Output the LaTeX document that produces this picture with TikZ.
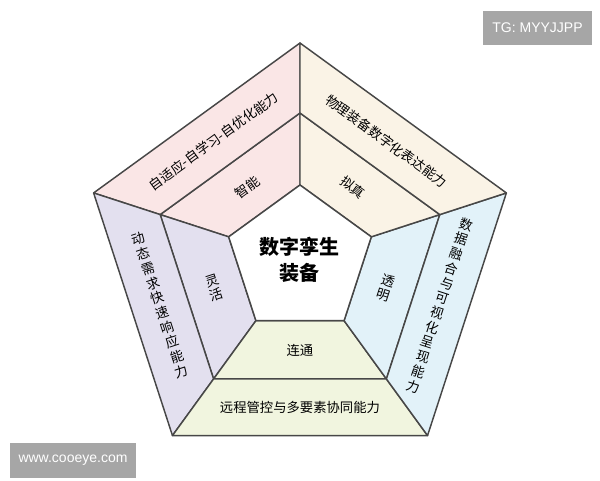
\documentclass[tikz,border=0pt]{standalone}
\usepackage{fontspec}
\setmainfont{Liberation Sans}
\newfontfamily\cjk{Noto Sans CJK SC}

\definecolor{pinkband}{HTML}{FAE6E6}
\definecolor{creamband}{HTML}{FAF3E6}
\definecolor{iceband}{HTML}{E2F2F9}
\definecolor{limeband}{HTML}{F1F5DF}
\definecolor{lilacband}{HTML}{E3E0EF}

\tikzstyle{band}=[draw=black!72, line width=1.1pt, line join=round]
\tikzstyle{lbl}=[font=\cjk\fontsize{10}{11.6}\selectfont, align=center, inner sep=0pt]
\tikzstyle{tag}=[fill=black!35, text=white, font=\fontsize{10.5}{12}\selectfont]

\begin{document}
\begin{tikzpicture}[x=0.75pt, y=0.75pt]
  \useasboundingbox (-300,-220) rectangle (300,260);
  \foreach \k in {0,...,4} {%
    \coordinate (i\k) at (90+72*\k:75);
    \coordinate (m\k) at (90+72*\k:147);
    \coordinate (o\k) at (90+72*\k:217);
  }
  \foreach \a/\b/\c in {0/1/pinkband, 1/2/lilacband, 2/3/limeband, 3/4/iceband, 4/0/creamband} {%
    \draw[band, fill=\c] (i\a) -- (m\a) -- (m\b) -- (i\b) -- cycle;
    \draw[band, fill=\c] (m\a) -- (o\a) -- (o\b) -- (m\b) -- cycle;
  }
  \draw[band, fill=white] (i0) -- (i1) -- (i2) -- (i3) -- (i4) -- cycle;

  \node[lbl, font=\cjk\bfseries\fontsize{15}{19.5}\selectfont] (core) at (0,0) {数字孪生\\装备};
  \node[lbl, rotate=36] (smart) at (126:90) {智能};
  \node[lbl, rotate=36] (selfopt) at (126:147) {自适应-自学习-自优化能力};
  \node[lbl, rotate=-36] (sim) at (54:90) {拟真};
  \node[lbl, rotate=-36] (digit) at (54:147) {物理装备数字化表达能力};
  \node[lbl, rotate=-18] (clear) at (342:90) {透\\明};
  \node[lbl, rotate=-18] (visual) at (342:147) {数\\据\\融\\合\\与\\可\\视\\化\\呈\\现\\能\\力};
  \node[lbl] (link) at (270:90) {连通};
  \node[lbl] (remote) at (270:147) {远程管控与多要素协同能力};
  \node[lbl, rotate=18] (agile) at (198:90) {灵\\活};
  \node[lbl, rotate=18] (respond) at (198:147) {动\\态\\需\\求\\快\\速\\响\\应\\能\\力};

  \node[tag, minimum width=81.75pt, minimum height=25.5pt] (tg) at (237.5,232) {TG: MYYJJPP};
  \node[tag, minimum width=94.5pt, minimum height=26.25pt] (site) at (-227,-200.5) {www.cooeye.com};
\end{tikzpicture}
\end{document}
